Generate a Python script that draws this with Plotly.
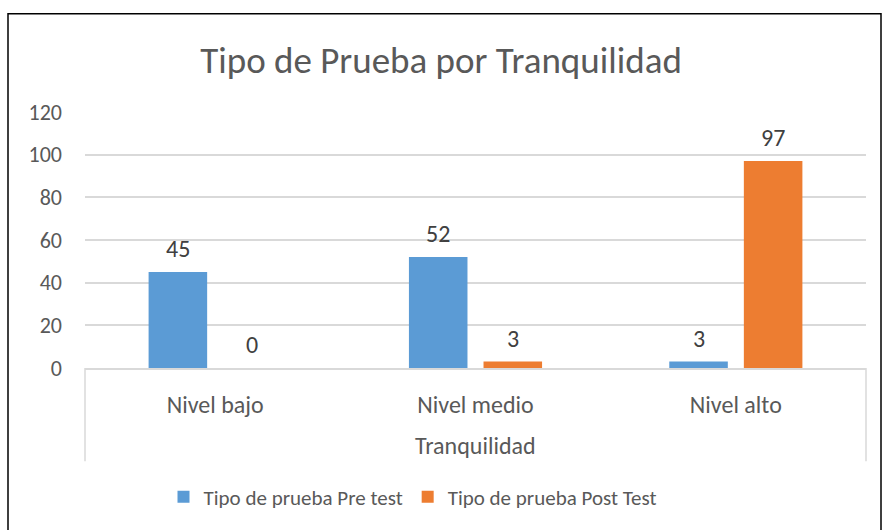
import plotly.graph_objects as go

categories = ["Nivel bajo", "Nivel medio", "Nivel alto"]
pre_test = [45, 52, 3]
post_test = [0, 3, 97]
series_names = ["Tipo de prueba Pre test", "Tipo de prueba Post Test"]
y_ticks = [0, 20, 40, 60, 80, 100, 120]

FONT = "Calibri, Carlito, Lato, sans-serif"
GRAY = "#595959"
LABEL = "#404040"
BLUE = "#5B9BD5"
ORANGE = "#ED7D31"

W, H = 882, 530
ML, MR, MT, MB = 85, 16, 112, 160
PW, PH = W - ML - MR, H - MT - MB

def px_x(x):
    return (x - ML) / PW

def px_y(y):
    return (H - MB - y) / PH

fig = go.Figure()
fig.add_trace(go.Bar(x=categories, y=pre_test, name=series_names[0],
                     marker=dict(color=BLUE, line=dict(width=0))))
fig.add_trace(go.Bar(x=categories, y=post_test, name=series_names[1],
                     marker=dict(color=ORANGE, line=dict(width=0))))

annotations = []
for i, c in enumerate(categories):
    for vals, off in ((pre_test, -0.143), (post_test, 0.143)):
        annotations.append(dict(
            x=i + off, y=vals[i], xref="x", yref="y", text=str(vals[i]),
            showarrow=False, yanchor="bottom", yshift=7,
            font=dict(family=FONT, size=24, color=LABEL)))

annotations.append(dict(
    x=0.5, y=px_y(448), xref="paper", yref="paper", text="Tranquilidad",
    showarrow=False, xanchor="center", yanchor="middle",
    font=dict(family=FONT, size=24, color=GRAY)))

shapes = [
    dict(type="line", xref="x domain", yref="paper", x0=0, x1=0,
         y0=0, y1=px_y(464), line=dict(color="#D9D9D9", width=1.5)),
    dict(type="line", xref="x domain", yref="paper", x0=1, x1=1,
         y0=0, y1=px_y(464), line=dict(color="#D9D9D9", width=1.5)),
    dict(type="rect", xref="paper", yref="paper",
         x0=px_x(8), x1=px_x(881), y0=px_y(545), y1=px_y(13),
         line=dict(color="black", width=1.5), fillcolor="rgba(0,0,0,0)"),
]

fig.update_layout(
    width=W, height=H,
    margin=dict(l=ML, r=MR, t=MT, b=MB),
    paper_bgcolor="white", plot_bgcolor="white",
    font=dict(family=FONT, color=GRAY),
    title=dict(text="Tipo de Prueba por Tranquilidad", x=0.5, xanchor="center",
               y=1 - 60 / H, yanchor="middle",
               font=dict(family=FONT, size=37, color=GRAY)),
    barmode="group", bargap=0.427, bargroupgap=0.215,
    showlegend=True,
    legend=dict(orientation="h", x=px_x(413), xanchor="center",
                y=px_y(500), yanchor="middle",
                font=dict(family=FONT, size=21, color=GRAY),
                itemwidth=30, bgcolor="rgba(0,0,0,0)"),
    annotations=annotations,
    shapes=shapes,
)
fig.update_xaxes(showline=True, linecolor="#D9D9D9", linewidth=1.5,
                 showgrid=False, ticks="", ticklabelstandoff=14,
                 tickfont=dict(family=FONT, size=24, color=GRAY),
                 fixedrange=True)
fig.update_yaxes(range=[0, 120], tickvals=y_ticks, showgrid=True,
                 gridcolor="#D9D9D9", gridwidth=1.5, zeroline=False,
                 showline=False, ticks="", ticklabelstandoff=22,
                 tickfont=dict(family=FONT, size=22, color=GRAY),
                 fixedrange=True)

fig.write_html("out.html", config={"displayModeBar": False},
               post_script="document.body.style.margin='0';")
